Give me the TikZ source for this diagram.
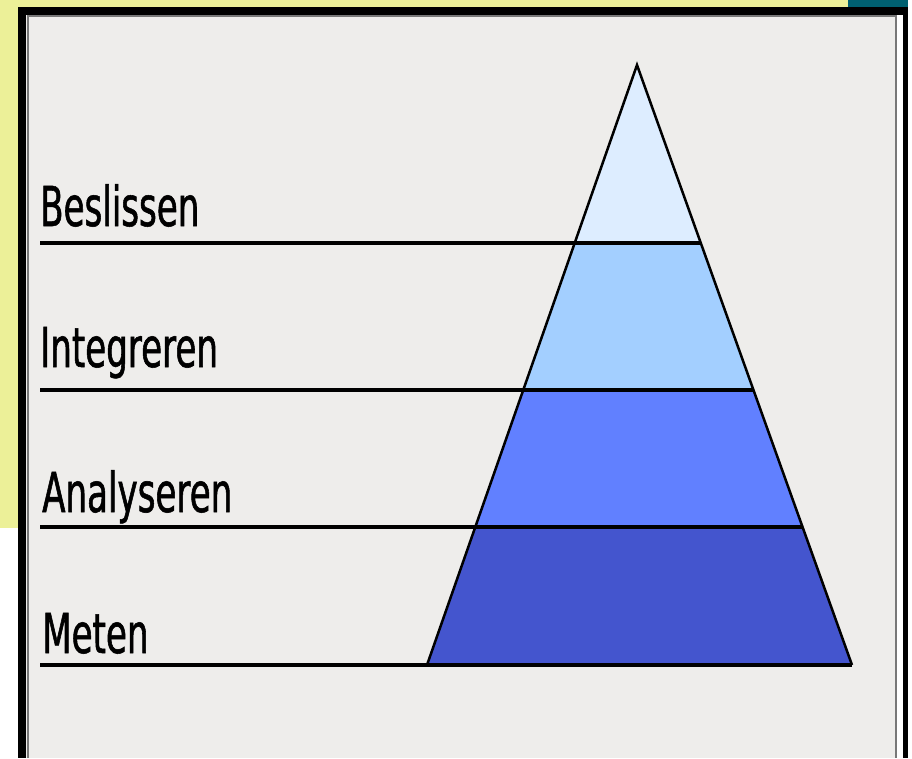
\documentclass[tikz,border=0pt]{standalone}
\usepackage{fontspec}
\newfontfamily\labelfont[FakeStretch=0.62,FakeBold=1]{DejaVu Sans}
\usetikzlibrary{calc}
\definecolor{paneyellow}{RGB}{236,240,152}
\definecolor{cornerteal}{RGB}{0,96,112}
\definecolor{panegrey}{RGB}{238,237,235}
\definecolor{framegrey}{RGB}{120,120,120}
\definecolor{beslisblue}{RGB}{221,237,255}
\definecolor{integrblue}{RGB}{163,207,255}
\definecolor{analysblue}{RGB}{97,128,255}
\definecolor{metenblue}{RGB}{68,85,206}

\begin{document}
\begin{tikzpicture}[x=1pt,y=-1pt,
  rule/.style={line width=4pt},
  edge/.style={line width=2.5pt,line join=miter},
  lbl/.style={anchor=base west,inner sep=0pt,font=\labelfont\fontsize{55}{60}\selectfont}]
\useasboundingbox (0,0) rectangle (912,758);

% frame round the slide
\fill[white] (0,0) rectangle (912,758);
\fill[paneyellow] (0,0) rectangle (848,7);
\fill[paneyellow] (0,0) rectangle (18,528);
\fill[cornerteal] (848,0) rectangle (908,7);
\fill[black] (18,7) rectangle (908,758);
\fill[white] (897,15) rectangle (903,758);
\fill[panegrey] (26,15) rectangle (897,758);
\draw[framegrey,line width=1.5pt] (28,758) -- (28,16) -- (896,16) -- (896,758);

\coordinate (apex) at (637,65);
\coordinate (baseL) at (427,665);
\coordinate (baseR) at (852,665);
\coordinate (margin) at (40,0);

\foreach \name/\t in {b/0.2967,i/0.5417,a/0.77,m/1} {
  \coordinate (\name L) at ($(apex)!\t!(baseL)$);
  \coordinate (\name R) at ($(apex)!\t!(baseR)$);
  \coordinate (\name W) at (margin |- \name L);
}

% layers
\fill[beslisblue] (apex) -- (bL) -- (bR) -- cycle;
\fill[integrblue] (bL) -- (iL) -- (iR) -- (bR) -- cycle;
\fill[analysblue] (iL) -- (aL) -- (aR) -- (iR) -- cycle;
\fill[metenblue] (aL) -- (mL) -- (mR) -- (aR) -- cycle;

\foreach \name in {b,i,a,m}
  \draw[rule] (\name W) -- (\name R);

\draw[edge] (mL) -- (apex) -- (mR);

\node[lbl] (beslissen) at (40,226) {Beslissen};
\node[lbl] (integreren) at (40,367) {Integreren};
\node[lbl] (analyseren) at (42,512) {Analyseren};
\node[lbl] (meten) at (42,653) {Meten};
\end{tikzpicture}
\end{document}
